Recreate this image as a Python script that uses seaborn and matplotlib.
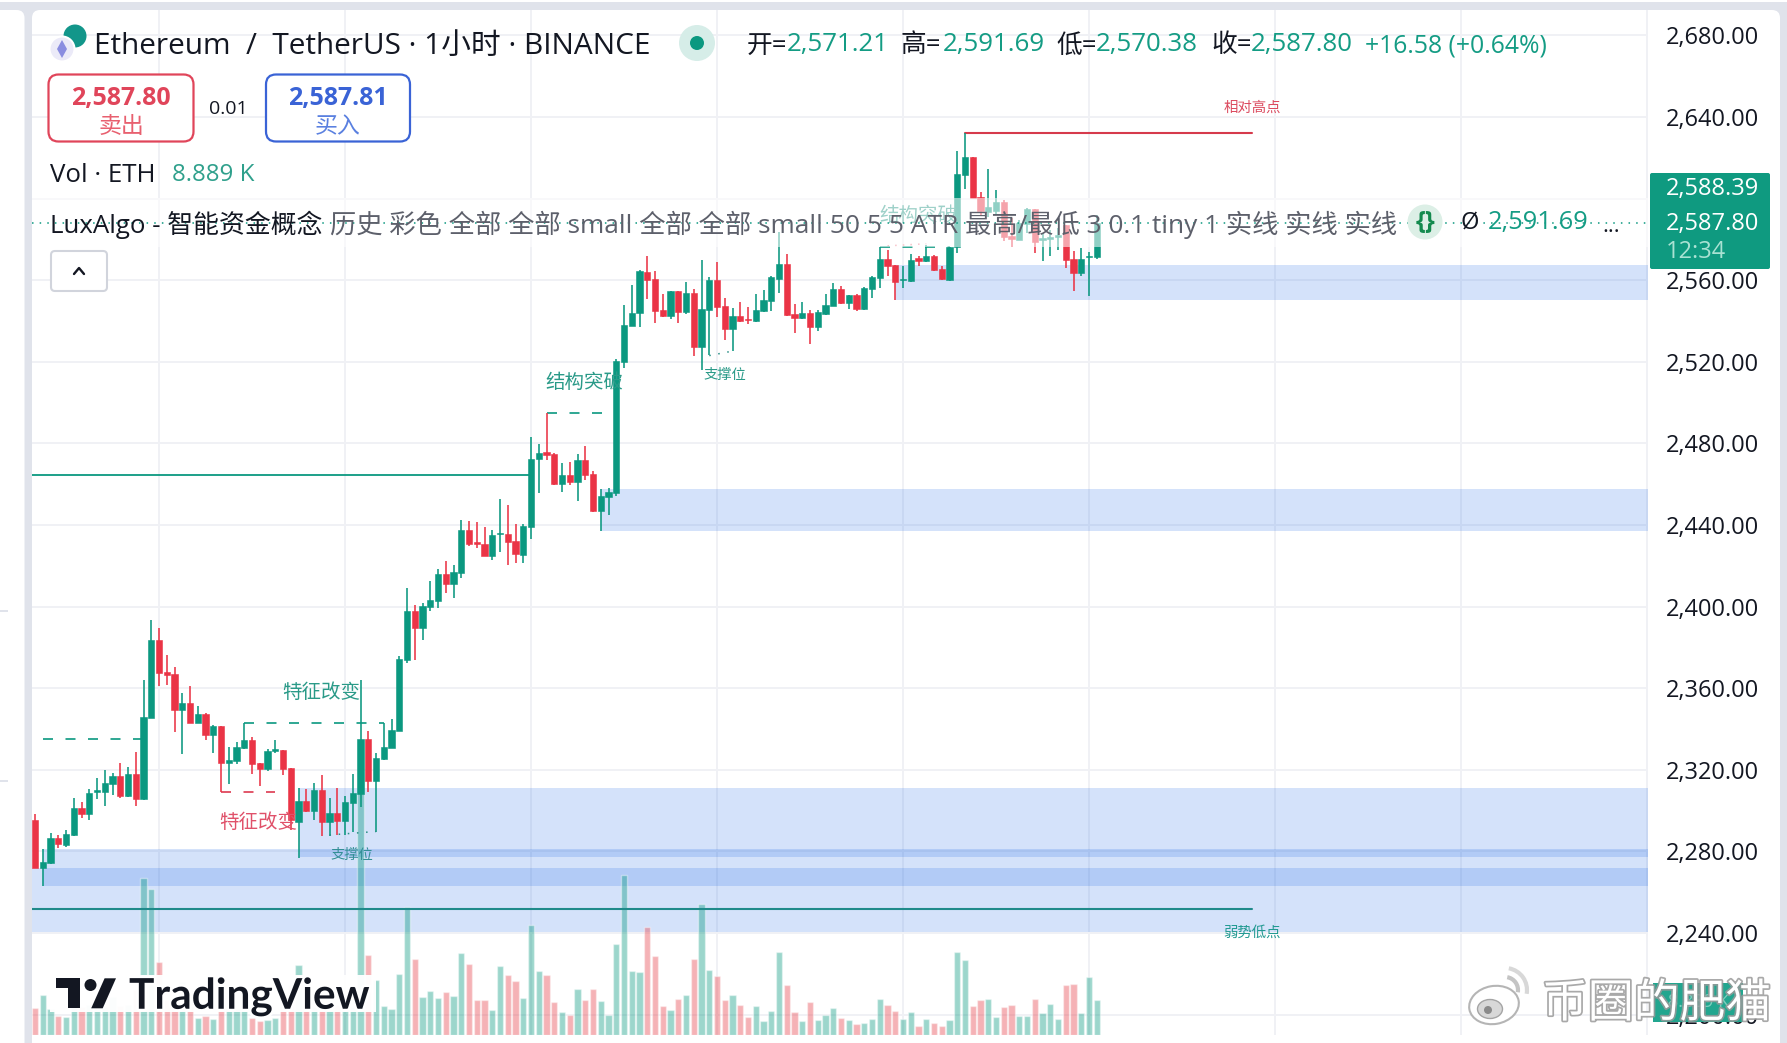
import numpy as np
import pandas as pd
import seaborn as sns
import matplotlib
matplotlib.use("Agg")
import matplotlib.pyplot as plt
import matplotlib.patheffects as pe
from matplotlib.patches import FancyBboxPatch, Rectangle, Circle, Polygon, Ellipse, Arc

# ---------- data ----------
sides = ("RGGRGGRGGG" "GRGRGGRRRG" "RGRGRGGGRR" "GGRRGRGRGR" "GGGRGGGGGR" "GGGRGGRRRG" "GRRGGGRRGR"
         "GRRGGGGGGR" "RRGRGRGGRR" "GRRGGGGRRG" "RGGGRGRGGG" "RRGGRGRRGG" "GRRGGRRGGR" "GGGRRGGG")
highs = [2298.3,2281.1,2288.8,2288.0,2290.5,2306.0,2304.2,2310.6,2316.0,2319.9,
         2318.2,2323.1,2321.3,2328.5,2364.0,2393.4,2389.5,2376.2,2370.4,2357.6,
         2361.0,2351.2,2347.6,2341.9,2341.4,2331.3,2333.4,2342.9,2335.9,2323.2,
         2330.0,2334.6,2329.7,2320.7,2310.9,2310.6,2313.3,2317.4,2306.2,2311.1,
         2307.1,2317.9,2364.0,2339.0,2328.1,2342.8,2344.7,2375.7,2409.1,2400.7,
         2401.5,2412.5,2418.4,2422.3,2420.3,2442.4,2441.9,2441.4,2439.0,2437.5,
         2452.7,2449.7,2440.4,2440.4,2483.1,2479.5,2495.0,2475.1,2470.2,2470.7,
         2474.6,2478.7,2466.6,2457.5,2458.0,2521.2,2547.8,2557.6,2565.0,2571.8,
         2564.5,2553.2,2554.9,2554.7,2559.1,2555.7,2569.9,2561.4,2568.9,2551.3,
         2546.2,2549.3,2546.8,2553.1,2555.2,2562.0,2583.8,2572.7,2548.3,2549.3,
         2545.4,2545.4,2553.2,2558.4,2557.1,2552.7,2553.2,2556.5,2562.0,2576.4,
         2574.8,2567.4,2566.9,2572.8,2571.8,2577.2,2572.3,2567.1,2576.4,2623.3,
         2632.0,2620.5,2603.2,2614.5,2604.2,2599.3,2590.3,2589.5,2595.2,2594.9,
         2583.0,2584.6,2585.4,2587.0,2574.3,2575.6,2573.8,2591.69]
body_tops = [2295.4,2274.6,2286.5,2286.5,2288.3,2301.2,2301.2,2308.6,2310.1,2313.5,
         2317.1,2316.9,2317.9,2317.9,2345.8,2383.6,2383.6,2367.9,2366.9,2352.7,
         2352.7,2347.3,2347.3,2341.4,2341.4,2324.8,2331.2,2334.6,2334.6,2323.2,
         2329.4,2330.2,2329.7,2320.7,2304.7,2304.7,2310.1,2310.1,2298.8,2298.8,
         2304.2,2308.6,2334.9,2334.9,2325.8,2331.0,2339.3,2374.3,2397.8,2397.8,
         2400.2,2403.2,2415.9,2415.9,2416.9,2437.5,2437.5,2431.6,2430.6,2435.0,
         2436.0,2435.5,2432.1,2439.4,2472.3,2475.1,2475.6,2474.8,2464.5,2464.5,
         2471.8,2471.8,2464.8,2454.2,2456.0,2520.5,2538.0,2543.7,2564.5,2564.0,
         2560.6,2545.4,2554.7,2554.7,2553.7,2553.7,2545.9,2560.1,2560.1,2547.3,
         2542.4,2542.4,2541.0,2545.4,2550.3,2561.4,2567.9,2567.9,2543.4,2543.9,
         2543.9,2544.4,2547.8,2555.7,2555.7,2552.7,2552.7,2556.2,2561.6,2570.2,
         2570.4,2567.4,2560.4,2569.9,2570.7,2571.8,2571.8,2565.5,2576.4,2612.0,
         2620.4,2620.5,2600.8,2596.0,2598.3,2598.3,2581.6,2587.8,2594.9,2594.9,
         2580.5,2581.0,2582.1,2587.0,2570.4,2570.4,2571.8,2587.80]
body_bots = [2272.0,2272.0,2274.1,2283.4,2283.1,2288.0,2298.3,2298.5,2309.2,2309.1,
         2313.0,2307.1,2307.1,2305.8,2305.5,2345.5,2367.6,2366.6,2349.4,2349.4,
         2342.9,2342.9,2337.0,2337.0,2323.3,2323.5,2324.3,2330.5,2322.8,2320.5,
         2320.2,2329.2,2320.5,2295.4,2294.4,2300.0,2300.0,2294.4,2294.4,2294.9,
         2294.9,2303.9,2308.1,2314.5,2314.5,2325.3,2330.8,2339.1,2373.8,2389.6,
         2389.6,2399.9,2402.7,2411.0,2411.0,2416.4,2430.6,2430.8,2424.7,2424.7,
         2435.4,2431.6,2425.7,2425.2,2439.0,2472.2,2474.3,2460.1,2460.1,2460.9,
         2461.2,2464.5,2446.9,2446.9,2453.9,2455.8,2520.0,2537.7,2543.7,2560.1,
         2544.9,2542.4,2542.4,2544.4,2544.4,2527.4,2527.4,2545.4,2546.8,2536.1,
         2536.1,2540.0,2540.5,2540.0,2544.9,2549.8,2560.6,2542.9,2541.5,2541.5,
         2537.0,2537.0,2543.4,2547.3,2548.8,2548.8,2545.9,2545.9,2555.7,2561.1,
         2566.9,2559.3,2560.1,2559.6,2569.6,2569.4,2565.0,2560.4,2560.1,2576.4,
         2611.5,2600.3,2593.9,2593.6,2593.9,2581.1,2580.0,2579.7,2587.5,2578.7,
         2579.7,2580.3,2581.3,2569.9,2563.5,2563.5,2571.2,2571.21]
lows = [2272.0,2263.0,2273.8,2281.6,2282.3,2287.5,2296.3,2295.4,2305.6,2302.2,
         2307.6,2306.1,2306.6,2302.2,2305.2,2345.5,2361.0,2361.5,2338.5,2327.7,
         2342.9,2342.7,2334.6,2328.2,2309.2,2313.0,2322.8,2330.2,2317.9,2312.0,
         2319.4,2328.4,2317.4,2290.5,2276.9,2299.5,2295.4,2287.5,2287.5,2288.0,
         2288.0,2289.7,2301.9,2309.1,2289.5,2324.9,2330.5,2339.1,2372.5,2373.8,
         2383.6,2397.9,2399.4,2406.6,2404.2,2414.0,2429.6,2428.7,2424.7,2422.8,
         2426.7,2420.3,2421.3,2421.3,2433.1,2455.8,2471.8,2459.8,2456.3,2459.6,
         2451.9,2462.0,2446.5,2437.2,2444.9,2454.4,2516.8,2537.5,2537.2,2550.8,
         2539.2,2542.1,2540.8,2539.2,2543.4,2522.8,2516.0,2523.3,2542.1,2530.7,
         2525.4,2539.5,2538.4,2539.5,2544.6,2544.9,2553.5,2542.4,2533.9,2541.0,
         2528.7,2535.1,2542.9,2547.3,2548.3,2545.9,2544.9,2545.4,2551.3,2556.2,
         2562.0,2550.4,2556.0,2559.3,2566.9,2568.9,2564.5,2560.1,2559.6,2573.5,
         2604.7,2600.3,2591.9,2591.1,2591.9,2579.2,2576.2,2579.7,2583.0,2573.3,
         2569.4,2571.8,2574.8,2566.0,2554.7,2562.0,2552.2,2570.38]
volumes_k = [6.9,10.2,6.6,4.8,4.6,7.6,7.1,7.6,7.1,7.1,
         9.7,7.4,7.6,11.4,39.9,37.1,18.5,8.9,7.6,13.5,
         7.1,4.3,4.8,4.1,7.6,7.1,6.6,6.4,4.3,3.6,
         3.8,4.3,7.1,12.7,17.8,7.1,7.1,7.1,6.4,7.6,
         7.1,7.1,61.5,20.3,14.0,7.4,6.6,15.5,32.5,19.3,
         9.7,11.2,9.4,10.9,9.9,20.8,18.0,8.9,8.9,6.4,
         17.5,15.2,13.7,9.4,27.9,16.3,15.2,8.4,5.8,5.1,
         11.7,8.9,11.7,8.6,5.1,23.1,40.6,16.3,16.0,27.4,
         20.1,7.4,6.4,9.1,10.2,19.3,33.3,16.5,15.0,8.9,
         10.2,7.6,4.6,7.4,3.6,6.1,21.1,12.7,5.8,3.6,
         8.4,3.8,5.1,6.9,4.3,3.8,2.8,3.0,4.1,9.1,
         7.6,6.1,4.1,5.8,2.3,4.1,3.0,2.3,3.8,21.1,
         19.1,7.4,8.9,9.1,4.6,7.1,7.6,4.8,4.8,9.1,
         5.6,7.9,4.1,12.7,13.0,5.6,14.7,8.889]

zone_start = [111, 73, 34, 1, -1]
zone_top = [2567.4, 2457.6, 2311.0, 2281.2, 2271.8]
zone_bot = [2550.2, 2437.1, 2277.1, 2263.0, 2240.6]

dash_x0 = [1, 27, 24, 66, 109]
dash_x1 = [14, 45, 31, 75, 118]
dash_y = [2335.0, 2342.9, 2309.2, 2495.0, 2576.4]
dash_side = ["G", "G", "R", "G", "G"]

price_ticks = [2200, 2240, 2280, 2320, 2360, 2400, 2440, 2480, 2520, 2560, 2600, 2640, 2680]
vgrid_bars = [16, 40, 64, 88, 112, 136, 160, 184, 208]
last_close = 2587.80

GREEN, RED = "#0b9880", "#ea3446"
VOL_G, VOL_R = "#089981", "#e8404a"
ZONE = "#2a6fe6"
GRID = "#f0f1f5"
CJK = ["Open Sans", "Noto Sans CJK SC", "DejaVu Sans"]

sns.set_theme(style="white")
plt.rcParams["font.family"] = CJK

W, H = 1787, 1043
fig = plt.figure(figsize=(W / 100, H / 100), dpi=100, facecolor="#e0e3eb")

# pixel-frame for the page furniture
bg = fig.add_axes([0, 0, 1, 1], zorder=0)
bg.set_xlim(0, W); bg.set_ylim(H, 0); bg.axis("off")
bg.add_patch(Rectangle((0, 0), W, 2, color="white", lw=0))
bg.add_patch(FancyBboxPatch((32, 10), 1748, 1060, boxstyle="round,pad=0,rounding_size=8", fc="white", ec="none"))
bg.add_patch(FancyBboxPatch((-20, 10), 44.5, 1060, boxstyle="round,pad=0,rounding_size=8", fc="white", ec="none"))
for yy in (611, 781):
    bg.add_patch(Rectangle((0, yy - 1), 8, 2, color="#e0e3eb", lw=0))

pos = [32 / W, (H - 1035) / H, (1648 - 32) / W, (1035 - 10) / H]
xlim = ((32 - 35) / 7.75, (1648 - 35) / 7.75)
ylim = (2680 - (1035 - 35.3) / 2.04, 2680 + (35.3 - 10) / 2.04)
n = len(highs)
bars = np.arange(n)
is_up = np.array([s == "G" for s in sides])

# layer 1: grid and zones
ax_g = fig.add_axes(pos, zorder=1, facecolor="none")
ax_g.set_xlim(*xlim); ax_g.set_ylim(*ylim)
ax_g.set_xticks(vgrid_bars); ax_g.set_yticks(price_ticks)
ax_g.set_xticklabels([]); ax_g.set_yticklabels([])
ax_g.grid(True, color=GRID, lw=1.4)
ax_g.set_axisbelow(True)
ax_g.tick_params(length=0)
sns.despine(ax=ax_g, left=True, bottom=True)
for s0, t_, b_ in zip(zone_start, zone_top, zone_bot):
    ax_g.fill_between([max(s0, xlim[0]), xlim[1]], t_, b_, color=ZONE, alpha=0.2, lw=0)

# layer 2: volume
ax_v = fig.add_axes(pos, zorder=2, facecolor="none")
df = pd.DataFrame({"bar": bars, "volume": volumes_k, "side": list(sides)})
sns.barplot(data=df, x="bar", y="volume", hue="side", palette={"G": VOL_G, "R": VOL_R},
            native_scale=True, dodge=False, width=0.78, saturation=1, alpha=0.4,
            legend=False, errorbar=None, ax=ax_v)
ax_v.set_xlim(*xlim)
ax_v.set_ylim(0, (1035 - 10) * 0.254)
ax_v.set_xticks([]); ax_v.set_yticks([]); ax_v.set_xlabel(""); ax_v.set_ylabel("")
sns.despine(ax=ax_v, left=True, bottom=True)

# layer 3: candles, structure lines, price scale
ax = fig.add_axes(pos, zorder=3, facecolor="none")
colors = np.where(is_up, GREEN, RED)
ax.vlines(bars, lows, highs, colors=colors, lw=1.15, zorder=3)
ax.bar(bars, np.array(body_tops) - np.array(body_bots), bottom=body_bots, width=0.78,
       color=colors, edgecolor=colors, lw=0.4, zorder=4)
for x0, x1, y, s in zip(dash_x0, dash_x1, dash_y, dash_side):
    ax.plot([x0, x1], [y, y], color=GREEN if s == "G" else "#dd3a50", lw=1.2,
            ls=(0, (6.0, 7.5)), zorder=2.5)
ax.plot([110, 115], [2576.8, 2577.8], color="#ee7a8a", lw=1.1, ls=(0, (1, 4)))
ax.plot([38, 44], [2288.0, 2289.7], color="#2a8f86", lw=1.1, ls=(0, (1, 5)), zorder=5)
ax.plot([87, 90], [2523.0, 2525.2], color="#2a8f86", lw=1.1, ls=(0, (1, 5)), zorder=5)
ax.plot([xlim[0], 64], [2464.5, 2464.5], color=GREEN, lw=1.3, zorder=2)
ax.plot([xlim[0], 157], [2251.7, 2251.7], color="#1f8a8a", lw=1.5, zorder=2)
ax.plot([120, 157], [2632.1, 2632.1], color="#d63a4c", lw=1.5, zorder=2)
ax.set_xlim(*xlim); ax.set_ylim(*ylim)
ax.set_xticks([])
ax.yaxis.tick_right()
ax.set_yticks(price_ticks)
ax.set_yticklabels([f"{p:,.2f}" for p in price_ticks], fontsize=17, color="#131722")
ax.tick_params(axis="y", length=0, pad=13)
sns.despine(ax=ax, left=True, bottom=True, right=True, top=True)

# annotation text on the chart
def ann(x, y, s, size, color, ha="center", **kw):
    return ax.annotate(s, xy=(x, y), xycoords="data", fontsize=size, color=color, ha=ha, va="center",
                       family=CJK, annotation_clip=False, zorder=6, **kw)

def bar_at(px):
    return (px - 35) / 7.75

def price_at(py):
    return 2680 - (py - 35.3) / 2.04

ann(bar_at(1252), price_at(108.5), "相对高点", 10.4, "#dc4c60")
ann(bar_at(1252), price_at(933), "弱势低点", 10.4, "#229a92")
ann(bar_at(258), price_at(823), "特征改变", 14, "#e0516a")
ann(bar_at(321), price_at(693), "特征改变", 14, "#2a9a88")
ann(bar_at(352), price_at(855), "支撑位", 10.3, "#338f96")
ann(bar_at(725), price_at(375.5), "支撑位", 10.3, "#2a9a88")
ann(bar_at(584), price_at(382.5), "结构突破", 14, "#2a9a88")
ann(bar_at(918), price_at(216), "结构突破", 14, "#2a9a88")

# layer 4: interface overlays
ui = fig.add_axes([0, 0, 1, 1], zorder=5, facecolor="none")
ui.set_xlim(0, W); ui.set_ylim(H, 0); ui.axis("off")

def t(x, y, s, size, color="#131722", ha="left", family=None, **kw):
    return ui.text(x, y, s, fontsize=size, color=color, ha=ha, va="center", family=family or CJK, **kw)

ui.add_patch(Rectangle((32, 198), 1616, 49, fc="white", ec="none", alpha=0.55, zorder=0.5))
ui.plot([0, 1], [last_close, last_close], transform=ax.get_yaxis_transform(), color=GREEN,
        lw=1.1, ls=(0, (1, 4)), zorder=0.6, clip_on=False)

# header
ui.add_patch(Circle((75, 36), 11.5, fc="#12968a", ec="none"))
ui.add_patch(Circle((62, 49), 12.5, fc="#ebeaf8", ec="white", lw=1.5))
ui.add_patch(Polygon([(62, 40), (67, 49), (62, 58), (57, 49)], fc="#8a8de0", ec="none"))
t(94, 46, "Ethereum  /  TetherUS · 1小时 · BINANCE", 21.4)
ui.add_patch(Circle((697, 43), 18, fc="#d6ede8", ec="none"))
ui.add_patch(Circle((697, 43), 7, fc=GREEN, ec="none"))
seg = [(747, "开="), (901, "高="), (1056, "低="), (1211, "收=")]
vals = [(787, "2,571.21"), (943, "2,591.69"), (1096, "2,570.38"), (1251, "2,587.80")]
for x, s in seg:
    t(x, 46, s, 18.5)
for x, s in vals:
    t(x, 45, s, 18.6, "#149c84")
t(1365, 46, "+16.58 (+0.64%)", 17.8, "#149c84")

# sell / buy buttons
ui.add_patch(FancyBboxPatch((48.5, 74.5), 145, 67, boxstyle="round,pad=0,rounding_size=10", fc="white", ec="#e0455a", lw=1.6))
ui.add_patch(FancyBboxPatch((266, 74.5), 144, 67, boxstyle="round,pad=0,rounding_size=10", fc="white", ec="#3a63d6", lw=1.6))
t(121, 98, "2,587.80", 18, "#e0455a", ha="center", weight="bold")
t(121, 127, "卖出", 16.5, "#e8606f", ha="center")
t(338, 98, "2,587.81", 18, "#3a63d6", ha="center", weight="bold")
t(338, 127, "买入", 16.5, "#5a80e0", ha="center")
t(228, 109, "0.01", 14, ha="center")
t(50, 175, "Vol · ETH", 18.6)
t(172, 175, "8.889 K", 17.4, "#2fa08c")

# indicator row
t(50, 225, "LuxAlgo - 智能资金概念", 18.6)
t(330, 225, "历史 彩色 全部 全部 small 全部 全部 small 50 5 5 ATR 最高/最低 3 0.1 tiny 1 实线 实线 实线", 18.9, "#5d606b")
ui.add_patch(Circle((1425, 222), 17.5, fc="#dcefe6", ec="none"))
t(1425, 222, "{}", 18, "#138a4e", ha="center", weight="bold")
t(1460, 223, "Ø", 17)
t(1488, 223, "2,591.69", 18.4, "#149c84")
t(1602, 226, "...", 16)

# collapse button
ui.add_patch(FancyBboxPatch((51, 251), 56, 40, boxstyle="round,pad=0,rounding_size=4", fc="white", ec="#d1d4dc", lw=1.5))
ui.plot([74, 79, 84], [274, 268, 274], color="#131722", lw=1.7)

# price box
ui.add_patch(FancyBboxPatch((1650, 173), 120, 96, boxstyle="round,pad=0,rounding_size=2", fc="#0f9a80", ec="none"))
t(1666, 189, "2,588.39", 17, "white")
t(1666, 224, "2,587.80", 17, "white")
t(1666, 252, "12:34", 17, "#a9e2d3")

# TradingView logo
ui.add_patch(Rectangle((50, 975), 326, 37, fc="white", ec="none", alpha=0.97))
ui.add_patch(Polygon([(56, 978.3), (80, 978.3), (80, 1008.3), (67.5, 1008.3), (67.5, 988.3), (56, 988.3)], fc="#131722", ec="none"))
ui.add_patch(Circle((90.5, 985), 6, fc="#131722", ec="none"))
ui.add_patch(Polygon([(116, 978.3), (104.6, 978.3), (91.2, 1008.3), (102.7, 1008.3)], fc="#131722", ec="none"))
t(129, 997, "TradingView", 30.5, family=["Lato", "DejaVu Sans"], weight="bold",
  path_effects=[pe.withStroke(linewidth=4, foreground="white")])

# bottom-right label and watermark
ui.add_patch(Rectangle((1653, 983), 90, 39, fc="#22a68f", ec="none"))
t(1668, 1002, "8.889 K", 13, "#7fcfbe")
shadow = [pe.withStroke(linewidth=2.5, foreground="#9a9a9a", alpha=0.85)]
t(1542, 1005, "币圈的肥猫", 33, "white", path_effects=shadow)
ui.add_patch(Ellipse((1494, 1005), 50, 38, angle=-10, fc="white", ec="#b5b5b5", lw=1.5))
ui.add_patch(Ellipse((1490, 1009), 25, 19, fc="#d8d8d8", ec="#a5a5a5", lw=1))
ui.add_patch(Circle((1488, 1010), 4, fc="#8a8a8a", ec="none"))
ui.add_patch(Arc((1505, 990), 26, 26, theta1=-80, theta2=10, color="#c4c4c4", lw=3))
ui.add_patch(Arc((1505, 990), 44, 44, theta1=-80, theta2=10, color="#d8d8d8", lw=3))

fig.savefig("out.png", dpi=100, facecolor=fig.get_facecolor())
